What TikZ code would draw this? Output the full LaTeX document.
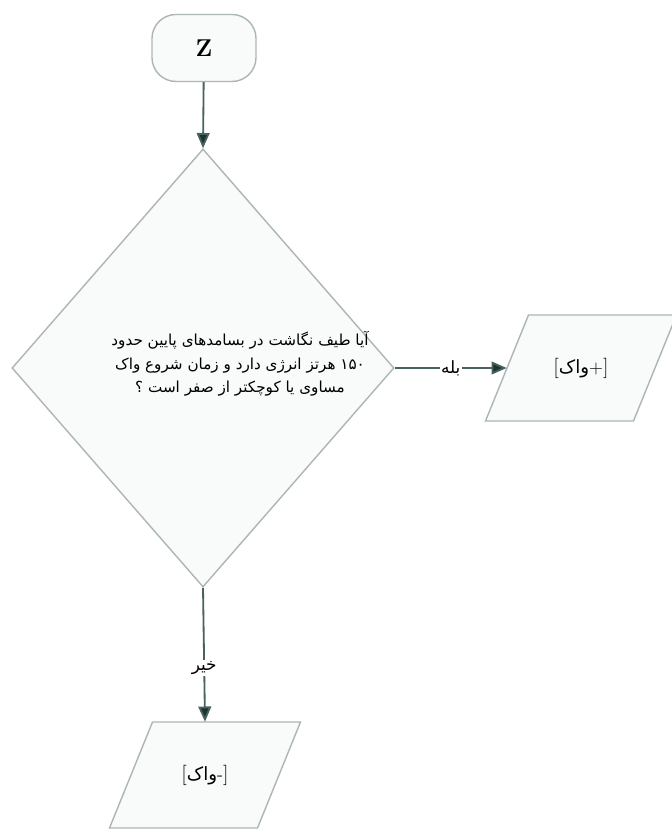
\documentclass[tikz,border=0pt]{standalone}
\usepackage{fontspec}
\usetikzlibrary{shapes.geometric,arrows.meta}
\newfontfamily\farsi[Script=Arabic]{DejaVu Sans}
\TeXXeTstate=1
\definecolor{boxline}{RGB}{172,182,180}
\definecolor{boxfill}{RGB}{249,250,250}
\definecolor{flowline}{RGB}{72,98,96}
\definecolor{flowtip}{RGB}{28,52,50}

\begin{document}
\begin{tikzpicture}[x=0.025cm,y=-0.025cm,
  terminal/.style={draw=boxline,fill=boxfill,line width=1pt,rounded corners=0.6cm,minimum width=2.6cm,minimum height=1.675cm,font=\LARGE\bfseries},
  decision/.style={draw=boxline,fill=boxfill,line width=1pt,diamond,minimum width=9.55cm,minimum height=10.95cm,inner sep=0pt},
  iobox/.style={draw=boxline,fill=boxfill,line width=1pt},
  iotext/.style={minimum width=3.7cm,minimum height=2.65cm,inner sep=0pt,font=\farsi\fontsize{13}{15}\selectfont},
  flow/.style={draw=flowline,line width=1.3pt,-{Triangle[length=0.38cm,width=0.32cm,fill=flowtip]}},
  lbl/.style={fill=white,inner sep=1pt,font=\farsi\fontsize{12}{14}\selectfont}]
\useasboundingbox (0,0) rectangle (671,832);
\node[terminal] (start) at (204,48) {Z};
\node[decision] (cond) at (203,368) {};
\node[align=center,font=\farsi\fontsize{10.8}{16.6}\selectfont] (condtext) at (240,364)
  {\beginR آیا طیف نگاشت در بسامدهای پایین حدود\endR\\
   \beginR ۱۵۰ هرتز انرژی دارد و زمان شروع واک\endR\\
   \beginR مساوی یا کوچکتر از صفر است ؟\endR};
\coordinate (yesc) at (581,368);
\coordinate (noc) at (205,775);
\filldraw[iobox] ([shift={(-95.5,53)}]yesc) -- ([shift={(52.5,53)}]yesc) -- ([shift={(95.5,-53)}]yesc) -- ([shift={(-52.5,-53)}]yesc) -- cycle;
\filldraw[iobox] ([shift={(-95.5,53)}]noc) -- ([shift={(52.5,53)}]noc) -- ([shift={(95.5,-53)}]noc) -- ([shift={(-52.5,-53)}]noc) -- cycle;
\node[iotext] (yes) at (yesc) {\hbox{\normalfont\Large[}\hbox{واک}\hbox{\normalfont+\Large]}};
\node[iotext] (no) at (noc) {\hbox{\normalfont\Large[}\hbox{واک}\hbox{\normalfont-\Large]}};
\draw[flow] (start) -- (cond.north);
\draw[flow] (cond.east) -- node[lbl] (yeslbl) {بله} (yes.west);
\draw[flow] (cond.south) -- node[lbl,pos=0.6] (nolbl) {خیر} (no.north);
\end{tikzpicture}
\end{document}
